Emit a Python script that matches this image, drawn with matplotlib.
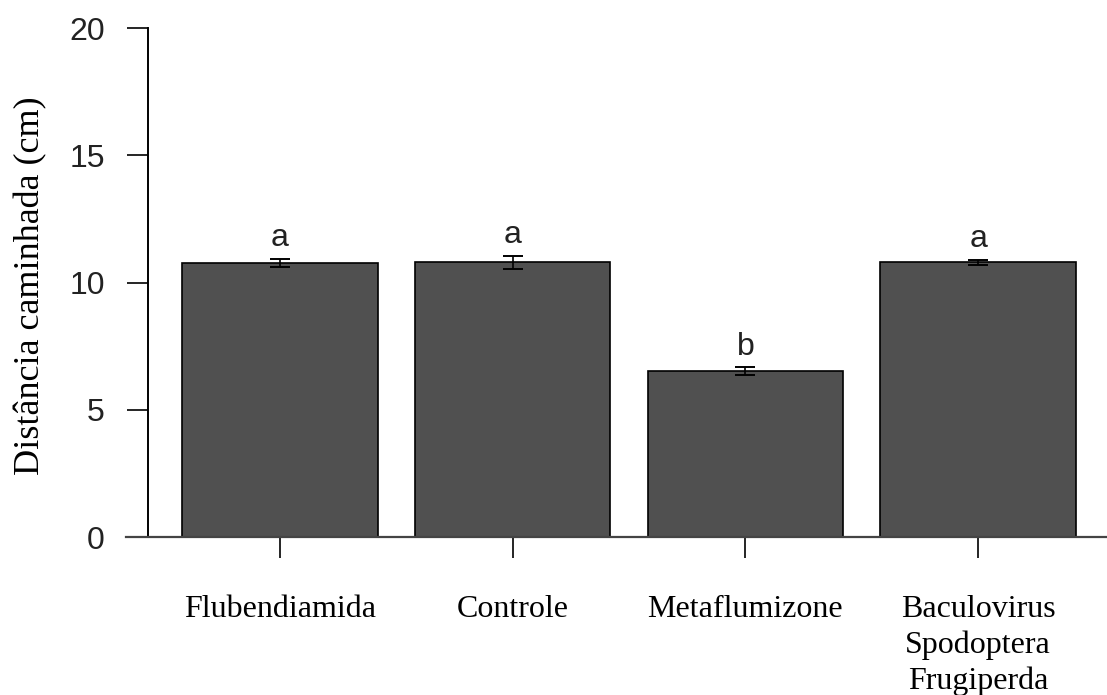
import matplotlib.pyplot as plt
import numpy as np

# mean walking distance per treatment, with standard error and Tukey letters
treatments = ["Flubendiamida", "Controle", "Metaflumizone",
              "Baculovirus\nSpodoptera\nFrugiperda"]
means = [10.77, 10.8, 6.52, 10.8]
errors = [0.16, 0.25, 0.15, 0.1]
letters = ["a", "a", "b", "a"]
yticks = [0, 5, 10, 15, 20]

fig = plt.figure(figsize=(11.07, 6.95), dpi=100)
ax = fig.add_axes([0.1337, 0.2273, 0.8663, 0.7324])

x = np.arange(len(treatments))
ax.bar(x, means, width=0.84, color="#505050", edgecolor="black", linewidth=1.2, zorder=2)
ax.errorbar(x, means, yerr=errors, fmt="none", ecolor="black",
            elinewidth=1.2, capsize=7, capthick=1.4, zorder=3)

for xi, m, e, lab in zip(x, means, errors, letters):
    ax.text(xi, m + e + 0.22, lab, ha="center", va="bottom",
            fontsize=23, family="Liberation Sans", color="#222222")

ax.set_xlim(-0.567, 3.554)
ax.set_ylim(0, 20)
ax.set_yticks(yticks)
ax.set_yticklabels([str(t) for t in yticks], family="Liberation Sans", fontsize=23, color="#222222")
ax.set_xticks(x)
ax.set_xticklabels(treatments, family="Liberation Serif", fontsize=23, linespacing=1.28)

ax.spines["top"].set_visible(False)
ax.spines["right"].set_visible(False)
ax.spines["bottom"].set_visible(False)
ax.spines["left"].set_linewidth(1.4)
ax.tick_params(axis="y", length=15, width=1.2, pad=16)
ax.tick_params(axis="x", length=15, width=1.2, pad=27)

# baseline runs a little past the y axis and to the right edge
ax.plot([-0.023, 1.0], [0, 0], color="#444444", linewidth=1.6,
        transform=ax.get_yaxis_transform(), clip_on=False, zorder=4)

fig.text(0.028, 0.589, "Distância caminhada (cm)", rotation=90, ha="center", va="center",
         family="Liberation Serif", fontsize=26)

fig.savefig("out.png", dpi=100)
